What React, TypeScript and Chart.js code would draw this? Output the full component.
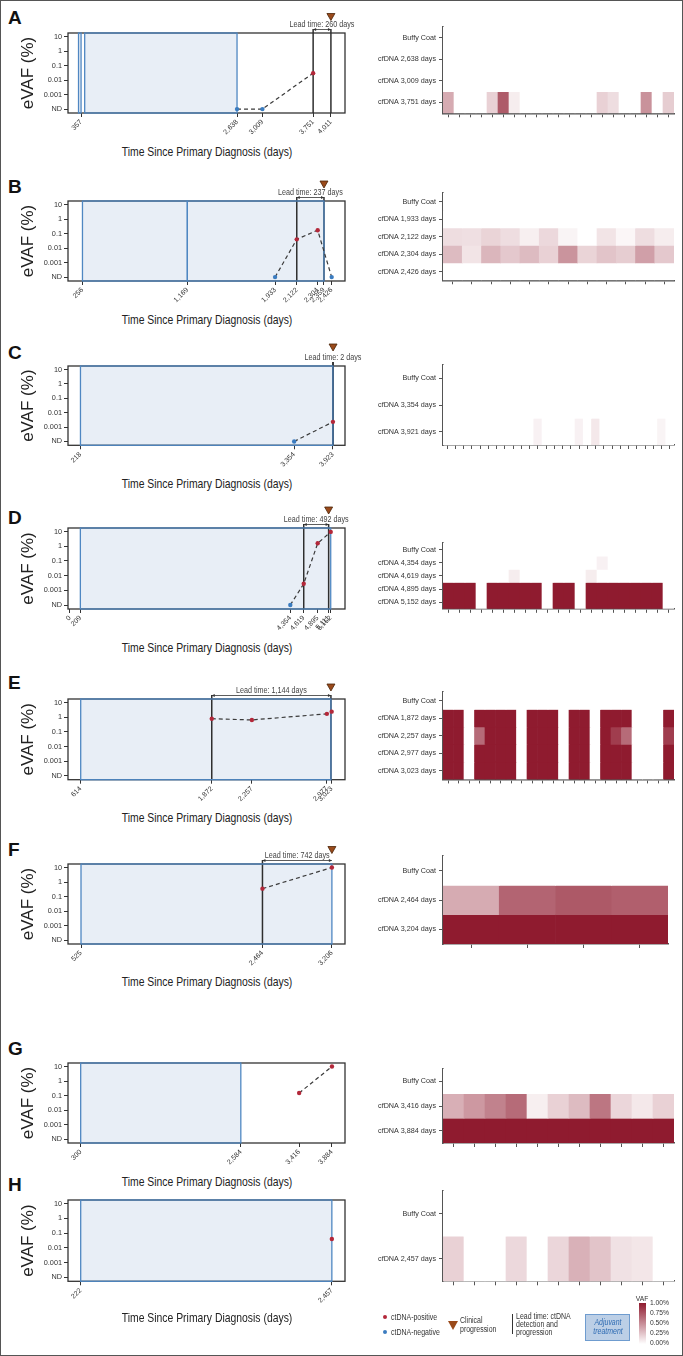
import React, { useEffect, useRef } from 'react';
import { Chart, registerables } from 'chart.js';
Chart.register(...registerables);

const SANS = "'Liberation Sans', Arial, Helvetica, sans-serif";
const TEXT = '#333333';
const POS_RED = '#b3283a';
const NEG_BLUE = '#3b7cc0';
const ADJ_FILL = '#e8eef6';
const ADJ_LINE = '#4f87c2';
const PROG = '#9a4a1b';

const ND_POS = 1e-4;
const Y_TICK_VALUES = [1e-4, 1e-3, 1e-2, 0.1, 1, 10];
const Y_TICK_LABELS = ['ND', '0.001', '0.01', '0.1', '1', '10'];
const Y_MIN = 5.4e-5;
const Y_MAX = 17.5;

// ---------- Panel A ----------
const A_DAYS = [2638, 3009, 3751];
const A_VAF = [0, 0, 0.03];
const A_TICKS = [357, 2638, 3009, 3751, 4011];
const A_ADJ = [[320, 357], [410, 2638]];
const A_LINES = [3751, 4011];
const A_LEAD = [3751, 4011];
const A_HM_ROWS = ['Buffy Coat', 'cfDNA 2,638 days', 'cfDNA 3,009 days', 'cfDNA 3,751 days'];
const A_HM_BUFFY = [0, 0, 0, 0, 0, 0, 0, 0, 0, 0, 0, 0, 0, 0, 0, 0, 0, 0, 0, 0, 0];
const A_HM_2638 = [0, 0, 0, 0, 0, 0, 0, 0, 0, 0, 0, 0, 0, 0, 0, 0, 0, 0, 0, 0, 0];
const A_HM_3009 = [0, 0, 0, 0, 0, 0, 0, 0, 0, 0, 0, 0, 0, 0, 0, 0, 0, 0, 0, 0, 0];
const A_HM_3751 = [0.37, 0, 0, 0, 0.2, 0.72, 0.08, 0, 0, 0, 0, 0, 0, 0, 0.2, 0.15, 0, 0, 0.48, 0, 0.22];

// ---------- Panel B ----------
const B_DAYS = [1933, 2122, 2304, 2426];
const B_VAF = [0, 0.04, 0.17, 0];
const B_TICKS = [256, 1169, 1933, 2122, 2304, 2359, 2426];
const B_ADJ = [[256, 1169], [1169, 2359]];
const B_LINES = [2122, 2359];
const B_LEAD = [2122, 2359];
const B_HM_ROWS = ['Buffy Coat', 'cfDNA 1,933 days', 'cfDNA 2,122 days', 'cfDNA 2,304 days', 'cfDNA 2,426 days'];
const B_HM_BUFFY = [0, 0, 0, 0, 0, 0, 0, 0, 0, 0, 0, 0];
const B_HM_1933 = [0, 0, 0, 0, 0, 0, 0, 0, 0, 0, 0, 0];
const B_HM_2122 = [0.15, 0.14, 0.19, 0.15, 0.07, 0.17, 0.05, 0, 0.12, 0.04, 0.15, 0.08];
const B_HM_2304 = [0.3, 0.12, 0.32, 0.24, 0.3, 0.2, 0.47, 0.19, 0.26, 0.22, 0.42, 0.24];
const B_HM_2426 = [0, 0, 0, 0, 0, 0, 0, 0, 0, 0, 0, 0];

// ---------- Panel C ----------
const C_DAYS = [3354, 3923];
const C_VAF = [0, 0.0023];
const C_TICKS = [218, 3354, 3923];
const C_ADJ = [[218, 3923]];
const C_LINES = [3923, 3925];
const C_LEAD = [3923, 3925];
const C_HM_ROWS = ['Buffy Coat', 'cfDNA 3,354 days', 'cfDNA 3,921 days'];
const C_HM_BUFFY = [0, 0, 0, 0, 0, 0, 0, 0, 0, 0, 0, 0, 0, 0, 0, 0, 0, 0, 0, 0, 0, 0, 0, 0, 0, 0, 0, 0];
const C_HM_3354 = [0, 0, 0, 0, 0, 0, 0, 0, 0, 0, 0, 0, 0, 0, 0, 0, 0, 0, 0, 0, 0, 0, 0, 0, 0, 0, 0, 0];
const C_HM_3921 = [0, 0, 0, 0, 0, 0, 0, 0, 0, 0, 0, 0.06, 0, 0, 0, 0, 0.06, 0, 0.1, 0, 0, 0, 0, 0, 0, 0, 0.05, 0];

// ---------- Panel D ----------
const D_DAYS = [4354, 4619, 4895, 5152];
const D_VAF = [0, 0.0028, 1.6, 9.5];
const D_TICKS = [0, 209, 4354, 4619, 4895, 5111, 5152];
const D_ADJ = [[209, 5152]];
const D_LINES = [4619, 5111];
const D_LEAD = [4619, 5111];
const D_HM_ROWS = ['Buffy Coat', 'cfDNA 4,354 days', 'cfDNA 4,619 days', 'cfDNA 4,895 days', 'cfDNA 5,152 days'];
const D_HM_BUFFY = [0, 0, 0, 0, 0, 0, 0, 0, 0, 0, 0, 0, 0, 0, 0, 0, 0, 0, 0, 0, 0];
const D_HM_4354 = [0, 0, 0, 0, 0, 0, 0, 0, 0, 0, 0, 0, 0, 0, 0.06, 0, 0, 0, 0, 0, 0];
const D_HM_4619 = [0, 0, 0, 0, 0, 0, 0.08, 0, 0, 0, 0, 0, 0, 0.08, 0, 0, 0, 0, 0, 0, 0];
const D_HM_4895 = [3.1, 2.4, 4.2, 0, 2.8, 3.5, 1.9, 2.2, 3.3, 0, 2.6, 1.8, 0, 2.9, 3.8, 2.1, 4.5, 2.7, 3.0, 1.6, 0];
const D_HM_5152 = [8.2, 6.5, 9.1, 0, 7.4, 5.8, 8.8, 6.9, 7.7, 0, 9.4, 6.1, 0, 8.5, 7.2, 9.0, 6.6, 8.1, 7.9, 5.5, 0];

// ---------- Panel E ----------
const E_DAYS = [1872, 2257, 2977, 3023];
const E_VAF = [0.79, 0.65, 1.7, 2.4];
const E_TICKS = [614, 1872, 2257, 2977, 3023];
const E_ADJ = [[614, 3016]];
const E_LINES = [1872, 3016];
const E_LEAD = [1872, 3016];
const E_HM_ROWS = ['Buffy Coat', 'cfDNA 1,872 days', 'cfDNA 2,257 days', 'cfDNA 2,977 days', 'cfDNA 3,023 days'];
const E_HM_BUFFY = [0, 0, 0, 0, 0, 0, 0, 0, 0, 0, 0, 0, 0, 0, 0, 0, 0, 0, 0, 0, 0, 0];
const E_HM_1872 = [1.4, 1.2, 0, 1.6, 1.3, 1.5, 1.1, 0, 1.7, 1.2, 1.4, 0, 1.3, 1.5, 0, 1.6, 1.2, 1.8, 0, 0, 0, 1.3];
const E_HM_2257 = [1.2, 1.1, 0, 0.65, 1.2, 1.4, 1.0, 0, 1.5, 1.1, 1.3, 0, 1.2, 1.4, 0, 1.4, 0.85, 0.65, 0, 0, 0, 0.85];
const E_HM_2977 = [1.9, 1.6, 0, 2.1, 1.8, 2.0, 1.5, 0, 2.2, 1.7, 1.9, 0, 1.6, 2.0, 0, 2.1, 1.7, 2.3, 0, 0, 0, 1.8];
const E_HM_3023 = [2.6, 2.2, 0, 2.8, 2.4, 2.7, 2.0, 0, 2.9, 2.3, 2.5, 0, 2.1, 2.6, 0, 2.8, 2.3, 3.0, 0, 0, 0, 2.4];

// ---------- Panel F ----------
const F_DAYS = [2464, 3206];
const F_VAF = [0.35, 10];
const F_TICKS = [525, 2464, 3206];
const F_ADJ = [[525, 3206]];
const F_LINES = [2464];
const F_LEAD = [2464, 3206];
const F_HM_ROWS = ['Buffy Coat', 'cfDNA 2,464 days', 'cfDNA 3,204 days'];
const F_HM_BUFFY = [0, 0, 0, 0];
const F_HM_2464 = [0.37, 0.68, 0.73, 0.7];
const F_HM_3204 = [9.2, 10.5, 11.3, 9.8];

// ---------- Panel G ----------
const G_DAYS = [3416, 3884];
const G_VAF = [0.15, 10];
const G_TICKS = [300, 2584, 3416, 3884];
const G_ADJ = [[300, 2584]];
const G_LINES: number[] = [];
const G_HM_ROWS = ['Buffy Coat', 'cfDNA 3,416 days', 'cfDNA 3,884 days'];
const G_HM_BUFFY = [0, 0, 0, 0, 0, 0, 0, 0, 0, 0, 0];
const G_HM_3416 = [0.35, 0.45, 0.55, 0.65, 0.07, 0.2, 0.3, 0.6, 0.18, 0.1, 0.2];
const G_HM_3884 = [9.5, 10.2, 11.0, 9.8, 10.6, 9.1, 10.8, 9.9, 10.3, 9.6, 10.1];

// ---------- Panel H ----------
const H_DAYS = [2457];
const H_VAF = [0.04];
const H_TICKS = [222, 2457];
const H_ADJ = [[222, 2457]];
const H_LINES: number[] = [];
const H_HM_ROWS = ['Buffy Coat', 'cfDNA 2,457 days'];
const H_HM_BUFFY = [0, 0, 0, 0, 0, 0, 0, 0, 0, 0, 0];
const H_HM_2457 = [0.2, 0, 0, 0.17, 0, 0.18, 0.34, 0.26, 0.13, 0.11, 0];

const LEGEND_VAF_TICKS = ['1.00%', '0.75%', '0.50%', '0.25%', '0.00%'];
const X_TITLE = 'Time Since Primary Diagnosis (days)';
const Y_TITLE = 'eVAF (%)';

type Geo = {
  letterY: number; frameTop: number; frameBottom: number; titleY: number;
  hmTop: number; hmBottom: number; hmRight: number; triOff: number;
};
type Panel = {
  letter: string; days: number[]; vaf: number[]; ticks: number[];
  xMin: number; xMax: number; adj: number[][]; lines: number[];
  lead: number[] | null; hmRows: string[]; hm: number[][]; geo: Geo;
};

const PANELS: Panel[] = [
  { letter: 'A', days: A_DAYS, vaf: A_VAF, ticks: A_TICKS, xMin: 166, xMax: 4217, adj: A_ADJ, lines: A_LINES, lead: A_LEAD,
    hmRows: A_HM_ROWS, hm: [A_HM_BUFFY, A_HM_2638, A_HM_3009, A_HM_3751],
    geo: { letterY: 18, frameTop: 33.3, frameBottom: 113.3, titleY: 152, hmTop: 27, hmBottom: 113.3, hmRight: 674, triOff: 16 } },
  { letter: 'B', days: B_DAYS, vaf: B_VAF, ticks: B_TICKS, xMin: 130, xMax: 2542, adj: B_ADJ, lines: B_LINES, lead: B_LEAD,
    hmRows: B_HM_ROWS, hm: [B_HM_BUFFY, B_HM_1933, B_HM_2122, B_HM_2304, B_HM_2426],
    geo: { letterY: 186.7, frameTop: 200.7, frameBottom: 280.7, titleY: 319.4, hmTop: 193, hmBottom: 280.3, hmRight: 674, triOff: 16.5 } },
  { letter: 'C', days: C_DAYS, vaf: C_VAF, ticks: C_TICKS, xMin: 35, xMax: 4100, adj: C_ADJ, lines: C_LINES, lead: C_LEAD,
    hmRows: C_HM_ROWS, hm: [C_HM_BUFFY, C_HM_3354, C_HM_3921],
    geo: { letterY: 353, frameTop: 366, frameBottom: 445.3, titleY: 484, hmTop: 365, hmBottom: 445, hmRight: 674, triOff: 18.5 } },
  { letter: 'D', days: D_DAYS, vaf: D_VAF, ticks: D_TICKS, xMin: -35, xMax: 5434, adj: D_ADJ, lines: D_LINES, lead: D_LEAD,
    hmRows: D_HM_ROWS, hm: [D_HM_BUFFY, D_HM_4354, D_HM_4619, D_HM_4895, D_HM_5152],
    geo: { letterY: 518, frameTop: 528.3, frameBottom: 609.3, titleY: 647.5, hmTop: 542.7, hmBottom: 608.5, hmRight: 674, triOff: 17.5 } },
  { letter: 'E', days: E_DAYS, vaf: E_VAF, ticks: E_TICKS, xMin: 492, xMax: 3151, adj: E_ADJ, lines: E_LINES, lead: E_LEAD,
    hmRows: E_HM_ROWS, hm: [E_HM_BUFFY, E_HM_1872, E_HM_2257, E_HM_2977, E_HM_3023],
    geo: { letterY: 683.3, frameTop: 699.3, frameBottom: 780, titleY: 817.3, hmTop: 691.6, hmBottom: 779, hmRight: 674, triOff: 11.5 } },
  { letter: 'F', days: F_DAYS, vaf: F_VAF, ticks: F_TICKS, xMin: 386, xMax: 3346, adj: F_ADJ, lines: F_LINES, lead: F_LEAD,
    hmRows: F_HM_ROWS, hm: [F_HM_BUFFY, F_HM_2464, F_HM_3204],
    geo: { letterY: 850, frameTop: 864, frameBottom: 944, titleY: 982, hmTop: 856, hmBottom: 944, hmRight: 668, triOff: 14 } },
  { letter: 'G', days: G_DAYS, vaf: G_VAF, ticks: G_TICKS, xMin: 119, xMax: 4070, adj: G_ADJ, lines: G_LINES, lead: null,
    hmRows: G_HM_ROWS, hm: [G_HM_BUFFY, G_HM_3416, G_HM_3884],
    geo: { letterY: 1049, frameTop: 1063.3, frameBottom: 1143.3, titleY: 1181.5, hmTop: 1069, hmBottom: 1143, hmRight: 674, triOff: 14 } },
  { letter: 'H', days: H_DAYS, vaf: H_VAF, ticks: H_TICKS, xMin: 109, xMax: 2574, adj: H_ADJ, lines: H_LINES, lead: null,
    hmRows: H_HM_ROWS, hm: [H_HM_BUFFY, H_HM_2457],
    geo: { letterY: 1185, frameTop: 1200, frameBottom: 1281.3, titleY: 1317.3, hmTop: 1191, hmBottom: 1281.3, hmRight: 674, triOff: 14 } },
];

function vafColor(v: number): string {
  const t = Math.max(0, Math.min(1, v));
  const r = Math.round(255 + (143 - 255) * t);
  const g = Math.round(255 + (27 - 255) * t);
  const b = Math.round(255 + (47 - 255) * t);
  return `rgb(${r},${g},${b})`;
}

function LeftChart({ p }: { p: Panel }) {
  const ref = useRef<HTMLCanvasElement>(null);
  const g = p.geo;
  const W = 380;
  const PAD_TOP = 45;
  const canvasTop = g.frameTop - PAD_TOP;
  const H = Math.round(g.frameBottom + 30 - canvasTop);
  useEffect(() => {
    const frameH = g.frameBottom - g.frameTop;
    const deco = {
      id: 'deco' + p.letter,
      beforeDatasetsDraw(chart: any) {
        const { ctx, chartArea: a, scales } = chart;
        const x = scales.x;
        ctx.save();
        ctx.fillStyle = ADJ_FILL;
        p.adj.forEach(([s, e]) => {
          const x1 = x.getPixelForValue(s), x2 = x.getPixelForValue(e);
          ctx.fillRect(x1, a.top, x2 - x1, a.bottom - a.top);
        });
        ctx.strokeStyle = '#333';
        ctx.lineWidth = 1.3;
        ctx.strokeRect(a.left, a.top, a.right - a.left, a.bottom - a.top);
        ctx.strokeStyle = '#2e2e2e';
        ctx.lineWidth = 1.5;
        p.lines.forEach((d) => {
          const px = x.getPixelForValue(d);
          ctx.beginPath();
          ctx.moveTo(px, a.bottom);
          ctx.lineTo(px, p.lead ? a.top - 4 : a.top);
          ctx.stroke();
        });
        ctx.strokeStyle = ADJ_LINE;
        ctx.lineWidth = 1.3;
        p.adj.forEach(([s, e]) => {
          const x1 = x.getPixelForValue(s), x2 = x.getPixelForValue(e);
          ctx.strokeRect(x1, a.top, x2 - x1, a.bottom - a.top);
        });
        ctx.restore();
      },
      afterDraw(chart: any) {
        if (!p.lead) return;
        const { ctx, chartArea: a, scales } = chart;
        const x = scales.x;
        const x1 = x.getPixelForValue(p.lead[0]);
        const x2 = x.getPixelForValue(p.lead[1]);
        const y = a.top - 3.5;
        ctx.save();
        ctx.strokeStyle = '#333';
        ctx.fillStyle = '#333';
        ctx.lineWidth = 0.8;
        ctx.beginPath();
        ctx.moveTo(x1, y);
        ctx.lineTo(x2, y);
        ctx.stroke();
        if (x2 - x1 > 6) {
          ctx.beginPath();
          ctx.moveTo(x1, y); ctx.lineTo(x1 + 3, y - 1.5); ctx.lineTo(x1 + 3, y + 1.5); ctx.closePath(); ctx.fill();
          ctx.beginPath();
          ctx.moveTo(x2, y); ctx.lineTo(x2 - 3, y - 1.5); ctx.lineTo(x2 - 3, y + 1.5); ctx.closePath(); ctx.fill();
        }
        const days = p.lead[1] - p.lead[0];
        ctx.save();
        ctx.translate((x1 + x2) / 2, a.top - 8);
        ctx.scale(0.8, 1);
        ctx.font = `9px ${SANS}`;
        ctx.textAlign = 'center';
        ctx.textBaseline = 'middle';
        ctx.fillStyle = '#444';
        ctx.fillText(`Lead time: ${days.toLocaleString('en-US')} days`, 0, 0);
        ctx.restore();
        const tx = x2;
        const ty = a.top - g.triOff;
        ctx.beginPath();
        ctx.moveTo(tx - 4, ty - 3.5);
        ctx.lineTo(tx + 4, ty - 3.5);
        ctx.lineTo(tx, ty + 3.5);
        ctx.closePath();
        ctx.fillStyle = PROG;
        ctx.fill();
        ctx.strokeStyle = '#4a2308';
        ctx.lineWidth = 0.8;
        ctx.stroke();
        ctx.restore();
      },
    };
    const chart = new Chart(ref.current as HTMLCanvasElement, {
      type: 'scatter',
      data: {
        datasets: [{
          data: p.days.map((d, i) => ({ x: d, y: p.vaf[i] === 0 ? ND_POS : p.vaf[i] })),
          showLine: true,
          borderColor: '#3a3a3a',
          borderWidth: 1.2,
          borderDash: [4, 3],
          pointRadius: 2.2,
          pointHoverRadius: 2.2,
          pointBorderWidth: 0,
          pointBackgroundColor: p.vaf.map((v) => (v > 0 ? POS_RED : NEG_BLUE)),
        } as any],
      },
      options: {
        animation: false,
        responsive: false,
        events: [],
        layout: { padding: { top: PAD_TOP, right: W - 345, left: 0, bottom: 0 } },
        plugins: { legend: { display: false }, tooltip: { enabled: false } },
        scales: {
          x: {
            type: 'linear',
            min: p.xMin,
            max: p.xMax,
            afterBuildTicks: (s: any) => { s.ticks = p.ticks.map((v) => ({ value: v })); },
            afterFit: (s: any) => { s.height = H - PAD_TOP - frameH; },
            ticks: {
              autoSkip: false, minRotation: 45, maxRotation: 45, padding: 1,
              color: TEXT, font: { family: SANS, size: 7 },
              callback: (v: any) => Number(v).toLocaleString('en-US'),
            },
            grid: { display: true, drawOnChartArea: false, drawTicks: true, tickLength: 4, color: '#333' },
            border: { display: false },
          },
          y: {
            type: 'logarithmic',
            min: Y_MIN,
            max: Y_MAX,
            afterBuildTicks: (s: any) => { s.ticks = Y_TICK_VALUES.map((v) => ({ value: v })); },
            afterFit: (s: any) => { s.width = 68; },
            ticks: {
              color: TEXT, font: { family: SANS, size: 7.3 }, padding: 2,
              callback: (_v: any, i: number) => Y_TICK_LABELS[i],
            },
            grid: { display: true, drawOnChartArea: false, drawTicks: true, tickLength: 4, color: '#333' },
            border: { display: false },
            title: {
              display: true, text: Y_TITLE, color: '#222',
              font: { family: SANS, size: 17, lineHeight: 1.2 }, padding: { top: 18, bottom: 0 },
            },
          },
        },
      } as any,
      plugins: [deco],
    });
    return () => chart.destroy();
  }, []);
  return (
    <>
      <canvas ref={ref} width={W} height={H}
        style={{ position: 'absolute', left: 0, top: canvasTop, width: W, height: H }} />
      <Txt x={206.5} y={g.titleY} size={13.5} align="center" sx={0.77} color="#222">{X_TITLE}</Txt>
    </>
  );
}

function HeatChart({ p }: { p: Panel }) {
  const ref = useRef<HTMLCanvasElement>(null);
  const g = p.geo;
  const LEFT = 360;
  const W = 323;
  const PT = 10;
  const canvasTop = g.hmTop - PT;
  const H = Math.round(g.hmBottom + 14 - canvasTop);
  useEffect(() => {
    const plotH = g.hmBottom - g.hmTop;
    const nRows = p.hmRows.length;
    const chart = new Chart(ref.current as HTMLCanvasElement, {
      type: 'bar',
      data: {
        labels: p.hm[0].map((_v, i) => String(i + 1)),
        datasets: p.hm.map((row, r) => ({
          label: p.hmRows[r],
          data: row.map(() => 1),
          backgroundColor: row.map(vafColor),
          borderWidth: 0,
          barPercentage: 1,
          categoryPercentage: 1,
        })),
      },
      options: {
        animation: false,
        responsive: false,
        events: [],
        layout: { padding: { top: PT, right: LEFT + W - g.hmRight, left: 0, bottom: 0 } },
        plugins: { legend: { display: false }, tooltip: { enabled: false } },
        scales: {
          x: {
            stacked: true,
            offset: true,
            afterFit: (s: any) => { s.height = H - PT - plotH; },
            ticks: { callback: () => '', padding: 0, autoSkip: false },
            grid: { display: true, offset: false, drawOnChartArea: false, drawTicks: true, tickLength: 4, color: '#555' },
            border: { display: true, color: '#555', width: 1.6 },
          },
          y: {
            stacked: true,
            min: 0,
            max: nRows,
            reverse: true,
            afterBuildTicks: (s: any) => { s.ticks = p.hmRows.map((_l, i) => ({ value: i + 0.5 })); },
            afterFit: (s: any) => { s.width = 443 - LEFT; },
            ticks: {
              color: TEXT, font: { family: SANS, size: 7.2 }, padding: 3,
              callback: (_v: any, i: number) => p.hmRows[i],
            },
            grid: { display: true, drawOnChartArea: false, drawTicks: true, tickLength: 4, color: '#555' },
            border: { display: true, color: '#555', width: 1.6 },
          },
        },
      } as any,
    });
    return () => chart.destroy();
  }, []);
  return (
    <canvas ref={ref} width={W} height={H}
      style={{ position: 'absolute', left: LEFT, top: canvasTop, width: W, height: H }} />
  );
}

function Txt({ x, y, children, size = 8.5, color = TEXT, align = 'left', italic = false, family = SANS, weight = 400, sx = 1 }: any) {
  const lh = size * 1.15;
  const style: any = {
    position: 'absolute', top: y - lh / 2, fontSize: size, lineHeight: `${lh}px`, color,
    fontFamily: family, whiteSpace: 'nowrap', fontStyle: italic ? 'italic' : 'normal', fontWeight: weight,
  };
  if (align === 'left') { style.left = x; style.transformOrigin = 'left center'; }
  else if (align === 'center') { style.left = x - 150; style.width = 300; style.textAlign = 'center'; style.transformOrigin = 'center center'; }
  else { style.left = x - 200; style.width = 200; style.textAlign = 'right'; style.transformOrigin = 'right center'; }
  if (sx !== 1) style.transform = `scaleX(${sx})`;
  return <div style={style}>{children}</div>;
}

function Legend() {
  const S = 0.84;
  return (
    <>
      <div style={{ position: 'absolute', left: 382.6, top: 1315.3, width: 4, height: 4, borderRadius: 2, background: POS_RED }} />
      <Txt x={391} y={1317.3} size={8.3} sx={S}>ctDNA-positive</Txt>
      <div style={{ position: 'absolute', left: 382.6, top: 1330.3, width: 4, height: 4, borderRadius: 2, background: NEG_BLUE }} />
      <Txt x={391} y={1332.3} size={8.3} sx={S}>ctDNA-negative</Txt>
      <div style={{ position: 'absolute', left: 448, top: 1320.5, width: 0, height: 0, borderLeft: '5px solid transparent', borderRight: '5px solid transparent', borderTop: `9px solid ${PROG}` }} />
      <Txt x={460} y={1321} size={8.3} sx={S}>Clinical</Txt>
      <Txt x={460} y={1329.5} size={8.3} sx={S}>progression</Txt>
      <div style={{ position: 'absolute', left: 512, top: 1314, width: 1, height: 20, background: '#333' }} />
      <Txt x={516} y={1316.3} size={8.3} sx={S}>Lead time: ctDNA</Txt>
      <Txt x={516} y={1324.7} size={8.3} sx={S}>detection and</Txt>
      <Txt x={516} y={1333} size={8.3} sx={S}>progression</Txt>
      <div style={{ position: 'absolute', left: 585, top: 1314, width: 45, height: 26.5, boxSizing: 'border-box', background: '#bccfe6', border: '1px solid #6f9ccf' }} />
      <Txt x={607.6} y={1322.7} size={8.3} sx={S} align="center" italic color="#2f6cb3">Adjuvant</Txt>
      <Txt x={607.6} y={1331.7} size={8.3} sx={S} align="center" italic color="#2f6cb3">treatment</Txt>
      <Txt x={642} y={1298.3} size={8} sx={S} align="center">VAF</Txt>
      <div style={{ position: 'absolute', left: 638.5, top: 1303, width: 7.5, height: 41, background: 'linear-gradient(to bottom, #8f1b2f, #ffffff)' }} />
      {LEGEND_VAF_TICKS.map((t, i) => (
        <Txt key={t} x={650} y={1303 + i * 10} size={8} sx={S}>{t}</Txt>
      ))}
    </>
  );
}

export default function App() {
  return (
    <div style={{ position: 'absolute', left: 0, top: 0, width: 683, height: 1356, background: '#fff', overflow: 'hidden' }}>
      {PANELS.map((p) => (
        <React.Fragment key={p.letter}>
          <Txt x={8} y={p.geo.letterY} size={19} weight={700} color="#111">{p.letter}</Txt>
          <LeftChart p={p} />
          <HeatChart p={p} />
        </React.Fragment>
      ))}
      <Legend />
      <div style={{ position: 'absolute', left: 0, top: 0, width: 683, height: 1356, boxSizing: 'border-box', border: '1.5px solid #555', pointerEvents: 'none' }} />
    </div>
  );
}
